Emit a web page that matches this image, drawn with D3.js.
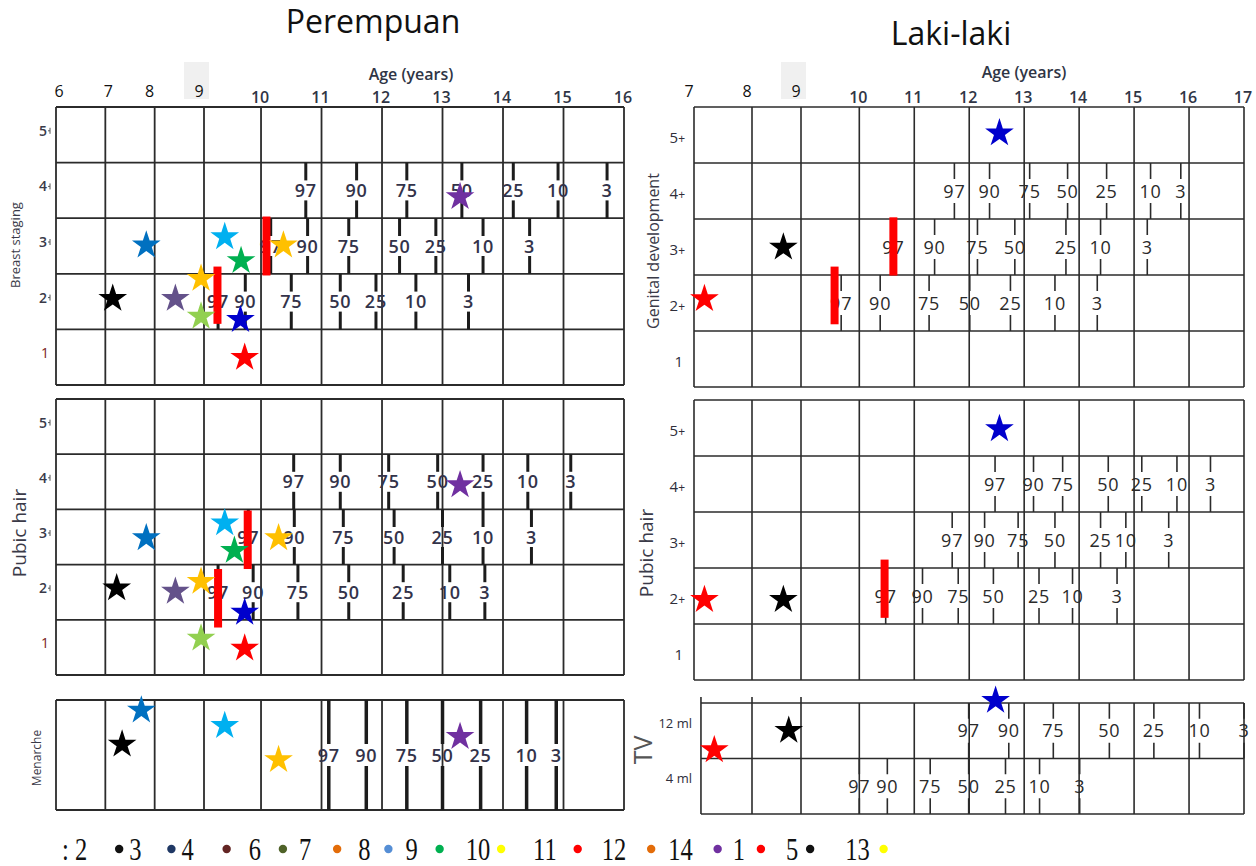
<!DOCTYPE html>
<html>
<head>
<meta charset="utf-8">
<script src="https://cdn.jsdelivr.net/npm/d3@7"></script>
<style>
  html, body { margin: 0; padding: 0; background: #fff; }
  svg { display: block; }
</style>
</head>
<body>
<svg id="chart" width="1256" height="866"></svg>
<script>
// ---------------- data ----------------
const pctLabels = ["97", "90", "75", "50", "25", "10", "3"];

// Girls: age (years) at which each percentile reaches the stage
const girlBreastP4 = [10.74, 11.58, 12.41, 13.32, 14.17, 14.91, 15.72];
const girlBreastP3 = [10.16, 10.77, 11.45, 12.29, 12.89, 13.67, 14.44];
const girlBreastP2 = [9.29, 9.74, 10.50, 11.31, 11.90, 12.56, 13.43];
const girlPubicP4  = [10.54, 11.31, 12.11, 12.92, 13.67, 14.41, 15.12];
const girlPubicP3  = [9.79, 10.55, 11.36, 12.20, 13.00, 13.67, 14.47];
const girlPubicP2  = [9.29, 9.87, 10.61, 11.45, 12.35, 13.12, 13.70];
const menarcheP    = [11.12, 11.74, 12.41, 13.00, 13.63, 14.39, 14.88];

// Boys
const boyGenitalP4 = [11.73, 12.37, 13.10, 13.79, 14.50, 15.30, 15.85];
const boyGenitalP3 = [10.62, 11.37, 12.15, 12.83, 13.76, 14.39, 15.24];
const boyGenitalP2 = [9.67, 10.38, 11.27, 12.01, 12.75, 13.56, 14.33];
const boyPubicP4   = [12.47, 13.17, 13.70, 14.53, 15.14, 15.78, 16.39];
const boyPubicP3   = [11.69, 12.28, 12.89, 13.56, 14.39, 14.85, 15.63];
const boyPubicP2   = [10.48, 11.15, 11.80, 12.44, 13.27, 13.88, 14.69];
const tvP12ml      = [11.99, 12.72, 13.53, 14.55, 15.36, 16.19, 17.00];
const tvP4ml       = [10.00, 10.51, 11.29, 11.99, 12.66, 13.28, 14.01];

// Individual girls (one colour per child)
const girlKeys        = ["black", "blue", "slate", "gold", "lime", "sky", "green", "navy", "red", "amber", "purple"];
const girlBreastAge   = [7.15, 7.83, 8.42, 8.94, 8.94, 9.40, 9.67, 9.66, 9.73, 10.37, 13.29];
const girlBreastStage = [2.08, 3.04, 2.08, 2.44, 1.76, 3.19, 2.76, 1.70, 1.02, 3.04, 3.91];
const girlPubicAge    = [7.23, 7.83, 8.42, 8.94, 8.94, 9.40, 9.56, 9.73, 9.73, 10.29, 13.29];
const girlPubicStage  = [2.10, 3.01, 2.04, 2.22, 1.19, 3.28, 2.78, 1.66, 1.01, 3.01, 3.97];
const menarcheKeys    = ["black", "blue", "sky", "amber", "purple"];
const menarcheAge     = [7.34, 7.73, 9.40, 10.29, 13.29];
const menarcheLane    = [0.61, 0.92, 0.78, 0.47, 0.68];

// Individual boys
const boyKeys         = ["red", "black", "navy"];
const boyGenitalAge   = [7.18, 8.64, 12.55];
const boyGenitalStage = [2.10, 3.02, 5.06];
const boyPubicAge     = [7.18, 8.64, 12.55];
const boyPubicStage   = [1.96, 1.96, 5.01];
const boyTvAge        = [7.35, 8.75, 12.48];
const boyTvLevel      = [1.18, 1.53, 2.07];

// Red markers: age, stage from, stage to
const girlBreastBarAge = [9.28, 10.09], girlBreastBarFrom = [1.60, 2.47], girlBreastBarTo = [2.63, 3.53];
const girlPubicBarAge  = [9.29, 9.78],  girlPubicBarFrom  = [1.36, 2.42], girlPubicBarTo  = [2.42, 3.48];
const boyGenitalBarAge = [9.55, 10.62], boyGenitalBarFrom = [1.62, 2.49], boyGenitalBarTo = [2.65, 3.53];
const boyPubicBarAge   = [10.46],       boyPubicBarFrom   = [1.61],       boyPubicBarTo   = [2.65];

// Axis ticks
const girlAgesLow  = [6, 7, 8, 9];
const girlAgesHigh = [10, 11, 12, 13, 14, 15, 16];
const boyAgesLow   = [7, 8, 9];
const boyAgesHigh  = [10, 11, 12, 13, 14, 15, 16, 17];
const stageTicks   = [5, 4, 3, 2, 1];

// Legend
const legendLabels = [": 2", "3", "4", "6", "7", "8", "9", "10", "11", "12", "14", "1", "5", "13"];
const legendDots   = ["#111111", "#1f3864", "#632523", "#4f6228", "#e36c09", "#558ed5", "#00b050",
                      "#ffff00", "#ff0000", "#e36c09", "#7030a0", "#ff0000", "#111111", "#ffff00"];

// ---------------- styles ----------------
const starColour = {
  black: "#000000", blue: "#0070c0", slate: "#64528a", gold: "#ffc000", lime: "#92d050",
  sky: "#00b0f0", green: "#00b050", navy: "#0000cc", red: "#ff0000", amber: "#ffc000", purple: "#7030a0"
};
const FONT = "'Open Sans', 'Noto Sans', sans-serif";
const GRID = "#2b2b2b";
// spacing of the legend line (label -> dot, dot -> next label)
const legendGapAfterLabel = [28, 26, 29, 18, 22, 14, 18, 7, 17, 21, 21, 12, 8, 10];
const legendGapAfterDot   = [6, 6, 18, 12, 17, 13, 22, 28, 20, 13, 11, 21, 31, 0];

// ---------------- scales ----------------
const xGirl = d3.scaleLinear().domain([6, 9, 9.14, 16]).range([56, 204, 209, 624]);
const xBoy  = d3.scaleLinear().domain([7, 8, 9, 9.03, 17]).range([694, 752, 801, 806, 1244]);

const yGirlBreast = d3.scaleLinear().domain([0.5, 5.5]).range([385, 107]);
const yGirlPubic  = d3.scaleLinear().domain([0.5, 5.5]).range([675, 399]);
const yMenarche   = d3.scaleLinear().domain([0, 1]).range([810, 700]);
const yBoyGenital = d3.scaleLinear().domain([0.5, 5.5]).range([387, 107]);
const yBoyPubic   = d3.scaleLinear().domain([0.5, 5.5]).range([680, 400]);
const yTv         = d3.scaleLinear().domain([0, 2]).range([814, 703]);

const stageBounds = [0.5, 1.5, 2.5, 3.5, 4.5, 5.5];
const girlGrid = girlAgesLow.concat(girlAgesHigh);
const boyGrid  = boyAgesLow.concat(boyAgesHigh);
const tvGrid   = [7.12].concat(boyGrid.slice(1));

const svg = d3.select("#chart");
svg.append("rect").attr("width", 1256).attr("height", 866).attr("fill", "#fff");

// ---------------- helpers ----------------
function grid(x, y, levels, ages, sw) {
  const g = svg.append("g").attr("stroke", GRID).attr("stroke-width", sw).attr("fill", "none");
  g.selectAll("line.h").data(levels).join("line").attr("class", "h")
    .attr("x1", x(ages[0])).attr("x2", x(ages[ages.length - 1]))
    .attr("y1", d => y(d)).attr("y2", d => y(d));
  g.selectAll("line.v").data(ages).join("line").attr("class", "v")
    .attr("x1", d => x(d)).attr("x2", d => x(d))
    .attr("y1", y(levels[0])).attr("y2", y(levels[levels.length - 1]));
}

function percentileRow(x, yTop, yBot, ages, o) {
  const yc = (yTop + yBot) / 2;
  const g = svg.append("g");
  const item = g.selectAll("g").data(ages).join("g")
    .attr("transform", d => `translate(${x(d)},0)`);
  item.append("line").attr("y1", yTop).attr("y2", yc - o.gap / 2)
    .attr("stroke", o.stroke).attr("stroke-width", o.sw);
  item.append("line").attr("y1", yc + o.gap / 2).attr("y2", yBot)
    .attr("stroke", o.stroke).attr("stroke-width", o.sw);
  item.append("text").attr("y", yc + o.dy).attr("text-anchor", "middle")
    .attr("font-family", FONT).attr("font-size", o.size).attr("font-weight", o.weight)
    .attr("letter-spacing", o.spacing).attr("fill", o.fill).text((d, i) => pctLabels[i]);
}

function stageRows(x, y, rows, o) {
  rows.forEach(([stage, ages]) => percentileRow(x, y(stage + 0.5), y(stage - 0.5), ages, o));
}

function bars(x, y, ages, from, to) {
  svg.append("g").selectAll("rect").data(ages).join("rect")
    .attr("x", d => x(d) - 4).attr("width", 8)
    .attr("y", (d, i) => y(to[i])).attr("height", (d, i) => y(from[i]) - y(to[i]))
    .attr("fill", "#ff0000");
}

const starShape = d3.symbol().type(d3.symbolStar).size(255);
function stars(x, y, keys, ages, vals) {
  svg.append("g").selectAll("path").data(keys).join("path")
    .attr("d", starShape)
    .attr("transform", (k, i) => `translate(${x(ages[i])},${y(vals[i]) + 1.5})`)
    .attr("fill", k => starColour[k]);
}

function rotLabel(cx, cy, text, size, fill) {
  svg.append("text").attr("transform", `translate(${cx},${cy}) rotate(-90)`)
    .attr("text-anchor", "middle").attr("dy", "0.35em")
    .attr("font-family", FONT).attr("font-size", size).attr("fill", fill).text(text);
}

function girlStageAxis(y) {
  const g = svg.append("g").attr("font-family", FONT);
  stageTicks.forEach(s => {
    g.append("text").attr("x", s === 1 ? 49 : 47).attr("y", y(s) - 4).attr("dy", "0.35em")
      .attr("text-anchor", "end").attr("font-size", 14)
      .attr("font-weight", s === 1 ? 400 : 600)
      .attr("fill", s === 1 ? "#7b1c1c" : "#3a3a48").text(s);
    if (s !== 1) {
      g.append("line").attr("x1", 50).attr("x2", 50).attr("y1", y(s) - 7).attr("y2", y(s) - 1)
        .attr("stroke", "#555").attr("stroke-width", 1);
      g.append("line").attr("x1", 48).attr("x2", 50).attr("y1", y(s) - 4).attr("y2", y(s) - 4)
        .attr("stroke", "#555").attr("stroke-width", 1);
    }
  });
}

function boyStageAxis(y) {
  const g = svg.append("g").attr("font-family", FONT).attr("fill", "#2e2e3a");
  stageTicks.forEach(s => {
    const t = g.append("text").attr("x", s === 1 ? 683 : 685).attr("y", y(s) + 3).attr("dy", "0.35em")
      .attr("text-anchor", "end").attr("font-size", 15);
    t.append("tspan").text(s);
    if (s !== 1) t.append("tspan").attr("font-size", 12).text("+");
  });
}

// ---------------- titles ----------------
svg.append("text").attr("x", 373).attr("y", 33).attr("text-anchor", "middle")
  .attr("font-family", FONT).attr("font-size", 32).attr("fill", "#111").text("Perempuan");
svg.append("text").attr("x", 951).attr("y", 45).attr("text-anchor", "middle")
  .attr("font-family", FONT).attr("font-size", 32).attr("fill", "#111").text("Laki-laki");

// ---------------- top age axes ----------------
function ageAxis(x, low, high, ageTitleX, ageTitleY, lowShift) {
  const g = svg.append("g").attr("font-family", FONT).attr("text-anchor", "middle");
  // shaded box behind the last low-age label
  g.append("rect").attr("x", x(low[low.length - 1]) - 20).attr("y", 62).attr("width", 25).attr("height", 37)
    .attr("fill", "#f0f0f0");
  g.selectAll("text.lo").data(low).join("text").attr("class", "lo")
    .attr("x", (d, i) => x(d) + lowShift(i)).attr("y", 97).attr("font-size", 16).attr("fill", "#111").text(d => d);
  g.selectAll("text.hi").data(high).join("text").attr("class", "hi")
    .attr("x", d => x(d) - 1).attr("y", 103).attr("font-size", 16).attr("font-weight", 600)
    .attr("fill", "#2f3545").text(d => d);
  g.append("text").attr("x", ageTitleX).attr("y", ageTitleY).attr("font-size", 16).attr("font-weight", 600)
    .attr("fill", "#2f3545").text("Age (years)");
}
ageAxis(xGirl, girlAgesLow, girlAgesHigh, 411, 80, i => (i < 2 ? 3 : -5));
ageAxis(xBoy, boyAgesLow, boyAgesHigh, 1024, 78, () => -5);

// ---------------- grids ----------------
grid(xGirl, yGirlBreast, stageBounds, girlGrid, 1.8);
grid(xGirl, yGirlPubic, stageBounds, girlGrid, 1.8);
grid(xGirl, yMenarche, [0, 1], girlGrid, 1.8);
grid(xBoy, yBoyGenital, stageBounds, boyGrid, 1.6);
grid(xBoy, yBoyPubic, stageBounds, boyGrid, 1.6);
grid(xBoy, yTv, [0, 1, 2], tvGrid, 1.6);
// short ticks above the TV box at the early ages
svg.append("g").selectAll("line").data(tvGrid.slice(0, 3)).join("line")
  .attr("x1", d => xBoy(d)).attr("x2", d => xBoy(d)).attr("y1", yTv(2) - 6).attr("y2", yTv(2))
  .attr("stroke", GRID).attr("stroke-width", 1.6);

// ---------------- percentile marks ----------------
const girlStyle = { gap: 20, sw: 3, stroke: "#1c1c1c", size: 18, weight: 600, fill: "#33334a", dy: 6.5, spacing: 0.8 };
const boyStyle  = { gap: 24, sw: 1.6, stroke: "#2b2b2b", size: 18, weight: 400, fill: "#2a2a2a", dy: 6.5, spacing: 0.8 };

stageRows(xGirl, yGirlBreast, [[4, girlBreastP4], [3, girlBreastP3], [2, girlBreastP2]], girlStyle);
stageRows(xGirl, yGirlPubic, [[4, girlPubicP4], [3, girlPubicP3], [2, girlPubicP2]], girlStyle);
percentileRow(xGirl, yMenarche(1), yMenarche(0), menarcheP, Object.assign({}, girlStyle, { sw: 3.5, gap: 22 }));

stageRows(xBoy, yBoyGenital, [[4, boyGenitalP4], [3, boyGenitalP3], [2, boyGenitalP2]], boyStyle);
stageRows(xBoy, yBoyPubic, [[4, boyPubicP4], [3, boyPubicP3], [2, boyPubicP2]], boyStyle);
percentileRow(xBoy, yTv(2), yTv(1), tvP12ml, boyStyle);
percentileRow(xBoy, yTv(1), yTv(0), tvP4ml, boyStyle);

// ---------------- axis labels ----------------
girlStageAxis(yGirlBreast);
girlStageAxis(yGirlPubic);
boyStageAxis(yBoyGenital);
boyStageAxis(yBoyPubic);

rotLabel(15, 245, "Breast staging", 13, "#3a3a48");
rotLabel(19, 533, "Pubic hair", 19, "#3a3a48");
rotLabel(37, 758, "Menarche", 12, "#3a3a48");
rotLabel(653, 251, "Genital development", 16, "#3a3a48");
rotLabel(646, 553, "Pubic hair", 19, "#3a3a48");
rotLabel(643, 750, "TV", 25, "#555");

svg.append("text").attr("x", 692).attr("y", 728).attr("text-anchor", "end")
  .attr("font-family", FONT).attr("font-size", 13).attr("fill", "#2e2e3a").text("12 ml");
svg.append("text").attr("x", 692).attr("y", 783).attr("text-anchor", "end")
  .attr("font-family", FONT).attr("font-size", 13).attr("fill", "#2e2e3a").text("4 ml");

// ---------------- red markers ----------------
bars(xGirl, yGirlBreast, girlBreastBarAge, girlBreastBarFrom, girlBreastBarTo);
bars(xGirl, yGirlPubic, girlPubicBarAge, girlPubicBarFrom, girlPubicBarTo);
bars(xBoy, yBoyGenital, boyGenitalBarAge, boyGenitalBarFrom, boyGenitalBarTo);
bars(xBoy, yBoyPubic, boyPubicBarAge, boyPubicBarFrom, boyPubicBarTo);

// ---------------- stars ----------------
stars(xGirl, yGirlBreast, girlKeys, girlBreastAge, girlBreastStage);
stars(xGirl, yGirlPubic, girlKeys, girlPubicAge, girlPubicStage);
stars(xGirl, yMenarche, menarcheKeys, menarcheAge, menarcheLane);
stars(xBoy, yBoyGenital, boyKeys, boyGenitalAge, boyGenitalStage);
stars(xBoy, yBoyPubic, boyKeys, boyPubicAge, boyPubicStage);
stars(xBoy, yTv, boyKeys, boyTvAge, boyTvLevel);

// ---------------- legend ----------------
const legend = svg.append("g");
const legendBase = 860, squeeze = 0.79;
let cursor = 62;
legendLabels.forEach((lab, i) => {
  const t = legend.append("text")
    .attr("transform", `translate(${cursor},${legendBase}) scale(${squeeze},1)`)
    .attr("font-family", "'Liberation Serif', 'Times New Roman', serif")
    .attr("font-size", 31).attr("fill", "#111").text(lab);
  cursor += t.node().getComputedTextLength() * squeeze + legendGapAfterLabel[i];
  legend.append("circle").attr("cx", cursor + 4).attr("cy", 849).attr("r", 4.2).attr("fill", legendDots[i]);
  cursor += 8 + legendGapAfterDot[i];
});
</script>
</body>
</html>
